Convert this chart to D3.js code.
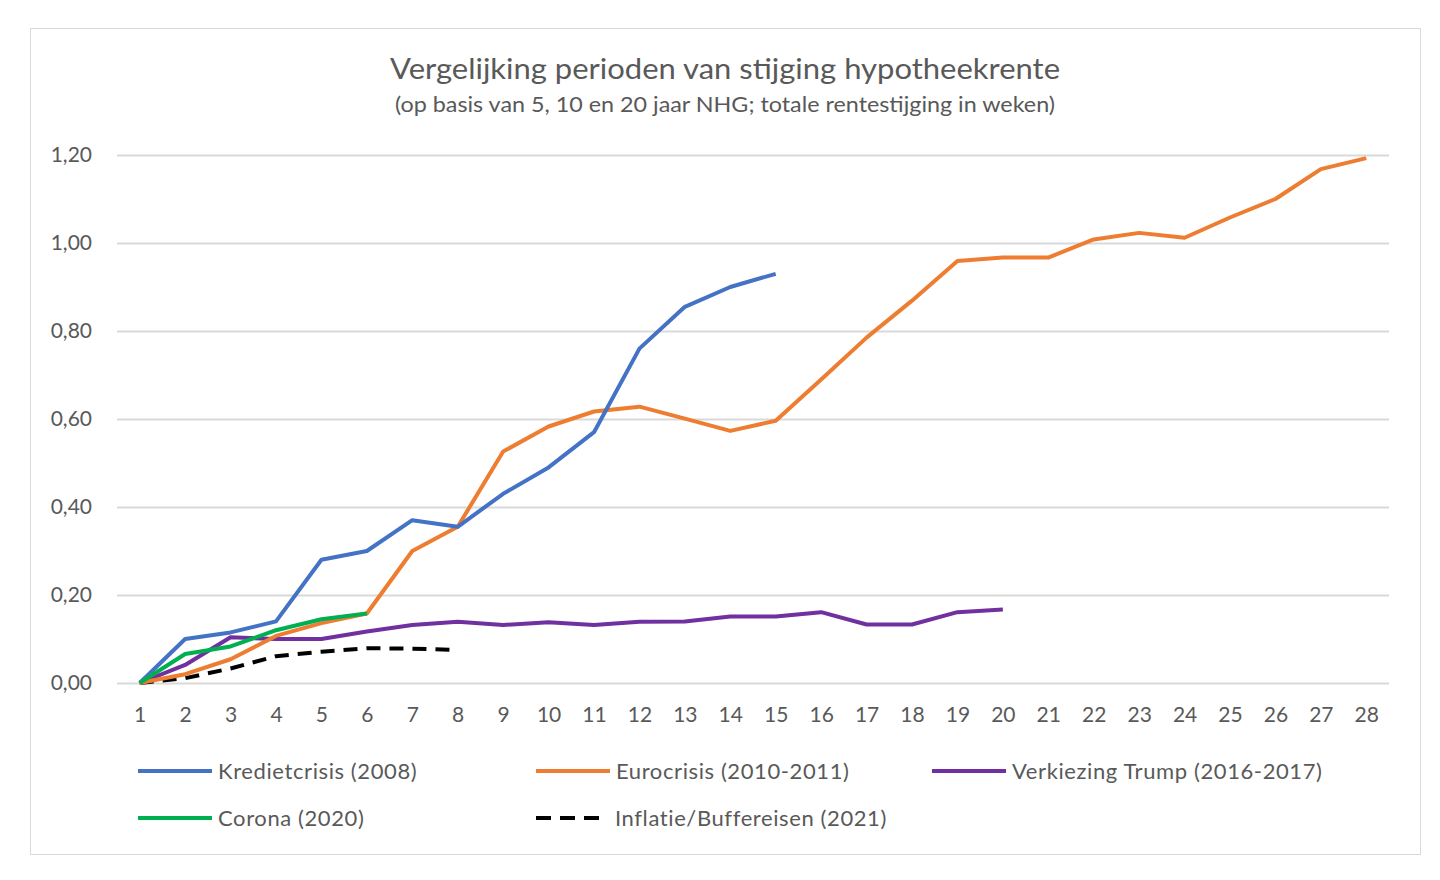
<!DOCTYPE html>
<html>
<head>
<meta charset="utf-8">
<script src="https://cdn.jsdelivr.net/npm/d3@7"></script>
<style>
  body { margin: 0; background: #fff; }
  svg text { font-family: Lato, "Open Sans", sans-serif; fill: #595959; }
</style>
</head>
<body>
<svg id="chart" width="1440" height="880"></svg>
<script>
// weeks 1..28
var weeks = d3.range(1, 29);
var yTicks = [0, 0.2, 0.4, 0.6, 0.8, 1.0, 1.2];

var kredietcrisis = [0, 0.10, 0.115, 0.14, 0.28, 0.30, 0.37, 0.355, 0.43, 0.49, 0.57, 0.76, 0.855, 0.90, 0.93];
var eurocrisis = [0, 0.02, 0.054, 0.107, 0.136, 0.158, 0.30, 0.355, 0.526, 0.583, 0.617, 0.628, 0.601, 0.573, 0.596,
  0.69, 0.785, 0.869, 0.959, 0.967, 0.967, 1.008, 1.023, 1.012, 1.058, 1.10, 1.168, 1.193];
var trump = [0, 0.041, 0.104, 0.10, 0.10, 0.117, 0.132, 0.139, 0.132, 0.138, 0.132, 0.139, 0.14, 0.151, 0.151,
  0.161, 0.133, 0.133, 0.161, 0.167];
var corona = [0, 0.066, 0.083, 0.12, 0.145, 0.158];
var inflatie = [0, 0.011, 0.033, 0.061, 0.071, 0.079, 0.078, 0.075];

var seriesNames = ["Kredietcrisis (2008)", "Eurocrisis (2010-2011)", "Verkiezing Trump (2016-2017)", "Corona (2020)", "Inflatie/Buffereisen (2021)"];
var seriesValues = [kredietcrisis, eurocrisis, trump, corona, inflatie];
var seriesColors = ["#4472C4", "#ED7D31", "#7030A0", "#00B050", "#000000"];

var svg = d3.select("#chart");

// outer chart frame
svg.append("rect")
    .attr("x", 30.5).attr("y", 28.5)
    .attr("width", 1390).attr("height", 826)
    .attr("fill", "#fff")
    .attr("stroke", "#d9d9d9");

svg.append("text")
    .attr("x", 725).attr("y", 79)
    .attr("text-anchor", "middle")
    .attr("textLength", 670)
    .attr("lengthAdjust", "spacingAndGlyphs")
    .style("font-size", "29px")
    .text("Vergelijking perioden van stijging hypotheekrente");

svg.append("text")
    .attr("x", 725).attr("y", 112)
    .attr("text-anchor", "middle")
    .attr("textLength", 660)
    .attr("lengthAdjust", "spacingAndGlyphs")
    .style("font-size", "21px")
    .text("(op basis van 5, 10 en 20 jaar NHG; totale rentestijging in weken)");

var x = d3.scalePoint().domain(weeks).range([117, 1389]).padding(0.5);
var y = d3.scaleLinear().domain([0, 1.2]).range([683, 155]);

var fmt = function(d) { return d3.format(".2f")(d).replace(".", ","); };

var yAxis = svg.append("g")
    .attr("transform", "translate(117,0)")
    .call(d3.axisLeft(y).tickValues(yTicks).tickSize(-1272).tickFormat(fmt).tickPadding(25));
yAxis.select(".domain").remove();
yAxis.selectAll("line").attr("stroke", "#d9d9d9").attr("stroke-width", 2);
yAxis.selectAll("text").style("font-size", "21px").attr("fill", "#595959");

var xAxis = svg.append("g")
    .attr("transform", "translate(0,683)")
    .call(d3.axisBottom(x).tickSize(0).tickPadding(24));
xAxis.select(".domain").remove();
xAxis.selectAll("text").style("font-size", "21px").attr("fill", "#595959");

var line = d3.line()
    .x(function(d, i) { return x(weeks[i]); })
    .y(function(d) { return y(d); });

// draw in reverse so blue sits on top like the original
var order = [4, 2, 1, 0, 3];
order.forEach(function(k) {
  svg.append("path")
      .datum(seriesValues[k])
      .attr("fill", "none")
      .attr("stroke", seriesColors[k])
      .attr("stroke-width", 4)
      .attr("stroke-linejoin", "round")
      .attr("stroke-dasharray", k === 4 ? "14,9" : null)
      .attr("d", line);
});

// legend
var legendPos = [[138, 771], [536, 771], [932, 771], [138, 818], [536, 818]];
seriesNames.forEach(function(name, k) {
  var p = legendPos[k];
  var g = svg.append("g").attr("transform", "translate(" + p[0] + "," + p[1] + ")");
  g.append("line")
      .attr("x1", 0).attr("x2", k === 4 ? 68 : 74)
      .attr("stroke", seriesColors[k])
      .attr("stroke-width", 4)
      .attr("stroke-dasharray", k === 4 ? "15,9" : null);
  g.append("text")
      .attr("x", k === 4 ? 79 : 80)
      .attr("dy", "0.35em")
      .style("font-size", "22px")
      .style("letter-spacing", "0.6px")
      .text(name);
});
</script>
</body>
</html>
